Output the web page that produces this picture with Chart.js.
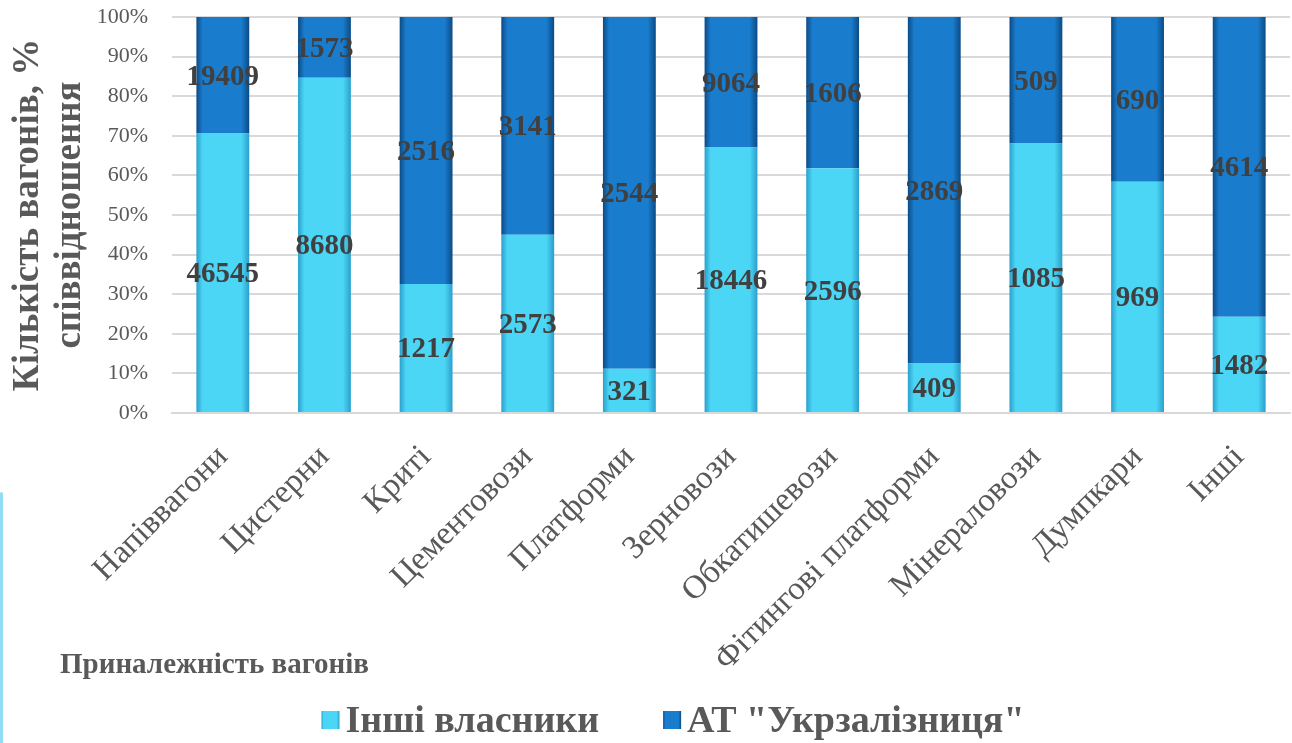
<!DOCTYPE html>
<html>
<head>
<meta charset="utf-8">
<script src="https://cdn.jsdelivr.net/npm/chart.js@4.4.0/dist/chart.umd.min.js"></script>
<style>
  html, body { margin: 0; padding: 0; background: #fff; }
  #wrap { position: relative; width: 1292px; height: 743px; }
  #edge { position: absolute; left: 0; top: 492px; width: 3px; height: 251px; background: #8fdcf3; border-radius: 3px 3px 0 0; }
</style>
</head>
<body>
<div id="wrap">
  <canvas id="wagon-chart" width="1292" height="743"></canvas>
  <div id="edge"></div>
</div>
<script>
const categories = ['Напіввагони', 'Цистерни', 'Криті', 'Цементовози', 'Платформи', 'Зерновози',
  'Обкатишевози', 'Фітингові платформи', 'Мінераловози', 'Думпкари', 'Інші'];
const otherOwners = [46545, 8680, 1217, 2573, 321, 18446, 2596, 409, 1085, 969, 1482];
const ukrzaliznytsia = [19409, 1573, 2516, 3141, 2544, 9064, 1606, 2869, 509, 690, 4614];
const yTicks = ['0%', '10%', '20%', '30%', '40%', '50%', '60%', '70%', '80%', '90%', '100%'];

const totals = categories.map((c, i) => otherOwners[i] + ukrzaliznytsia[i]);
const pct = arr => arr.map((v, i) => v / totals[i] * 100);

const serif = '"Liberation Serif", "Times New Roman", serif';

const palette = [
  { edge: '#2a9fcc', mid: '#4cd6f5', flat: '#3cc4ea' },
  { edge: '#0b4a85', mid: '#1a7ccc', flat: '#1873c0' }
];

function gradient(c, x0, w, p) {
  const g = c.createLinearGradient(x0, 0, x0 + w, 0);
  g.addColorStop(0, p.edge);
  g.addColorStop(0.12, p.mid);
  g.addColorStop(0.85, p.mid);
  g.addColorStop(1, p.edge);
  return g;
}

// horizontal "3D" gradient for each bar
function barFill(p) {
  return function (ctx) {
    const chart = ctx.chart;
    const x = chart.scales.x;
    if (!chart.chartArea || ctx.dataIndex === undefined || !x) return p.flat;
    const cx = x.getPixelForValue(ctx.dataIndex);
    return gradient(chart.ctx, cx - 26.5, 53, p);
  };
}

const valueLabels = {
  id: 'valueLabels',
  afterDatasetsDraw(chart) {
    const c = chart.ctx;
    c.save();
    c.font = 'bold 29px ' + serif;
    c.fillStyle = '#404040';
    c.textAlign = 'center';
    c.textBaseline = 'middle';
    chart.data.datasets.forEach((ds, di) => {
      const meta = chart.getDatasetMeta(di);
      meta.data.forEach((bar, i) => {
        c.fillText(ds.raw[i], bar.x, (bar.y + bar.base) / 2 + 2);
      });
    });
    c.restore();
  }
};

const xTitle = {
  id: 'xTitle',
  afterDraw(chart) {
    const c = chart.ctx;
    c.save();
    c.font = 'bold 29px ' + serif;
    c.fillStyle = '#595959';
    c.textAlign = 'left';
    c.textBaseline = 'middle';
    c.fillText('Приналежність вагонів', 60, 666);
    c.restore();
  }
};

// legend drawn under the chart, centred like the original
const bottomLegend = {
  id: 'bottomLegend',
  afterDraw(chart) {
    const c = chart.ctx;
    const y = 720, box = 18, gapText = 6, gapItem = 64;
    c.save();
    c.font = 'bold 38px ' + serif;
    const items = chart.data.datasets.map((ds, i) => ({ text: ds.label, w: c.measureText(ds.label).width, p: palette[i] }));
    const total = items.reduce((s, it) => s + box + gapText + it.w, 0) + gapItem * (items.length - 1);
    let x = 673 - total / 2;
    items.forEach(it => {
      c.fillStyle = gradient(c, x, box, it.p);
      c.fillRect(x, y - box / 2, box, box);
      x += box + gapText;
      c.fillStyle = '#595959';
      c.textAlign = 'left';
      c.textBaseline = 'middle';
      c.fillText(it.text, x, y + 2);
      x += it.w + gapItem;
    });
    c.restore();
  }
};

const chart = new Chart(document.getElementById('wagon-chart'), {
  type: 'bar',
  data: {
    labels: categories,
    datasets: [{
      label: 'Інші власники',
      data: pct(otherOwners),
      raw: otherOwners,
      backgroundColor: barFill(palette[0])
    }, {
      label: 'АТ "Укрзалізниця"',
      data: pct(ukrzaliznytsia),
      raw: ukrzaliznytsia,
      backgroundColor: barFill(palette[1])
    }]
  },
  options: {
    responsive: false,
    animation: false,
    layout: { padding: { top: 0, right: 2, left: 0, bottom: 50 } },
    categoryPercentage: 1,
    barPercentage: 0.52,
    scales: {
      x: {
        stacked: true,
        grid: { display: false },
        border: { color: '#d9d9d9', width: 2 },
        ticks: {
          color: '#595959',
          font: { family: serif, size: 33 },
          minRotation: 45,
          maxRotation: 45,
          padding: 17
        },
        afterFit(scale) { scale.height = 280; }
      },
      y: {
        stacked: true,
        min: 0,
        max: 100,
        grid: { color: '#d9d9d9', lineWidth: 2, drawTicks: false },
        border: { display: false },
        ticks: {
          stepSize: 10,
          color: '#595959',
          font: { family: serif, size: 22 },
          padding: 24,
          callback: (v, i) => yTicks[i]
        },
        title: {
          display: true,
          text: ['Кількість вагонів, %', 'співвідношення'],
          color: '#595959',
          font: { family: serif, size: 37, weight: 'bold', lineHeight: 1.135 },
          padding: { top: 7, bottom: 0 }
        },
        afterFit(scale) {
          scale.width = 172;
          scale.paddingTop = 17;
        }
      }
    },
    plugins: {
      legend: { display: false },
      tooltip: { enabled: false }
    }
  },
  plugins: [valueLabels, xTitle, bottomLegend]
});
</script>
</body>
</html>
